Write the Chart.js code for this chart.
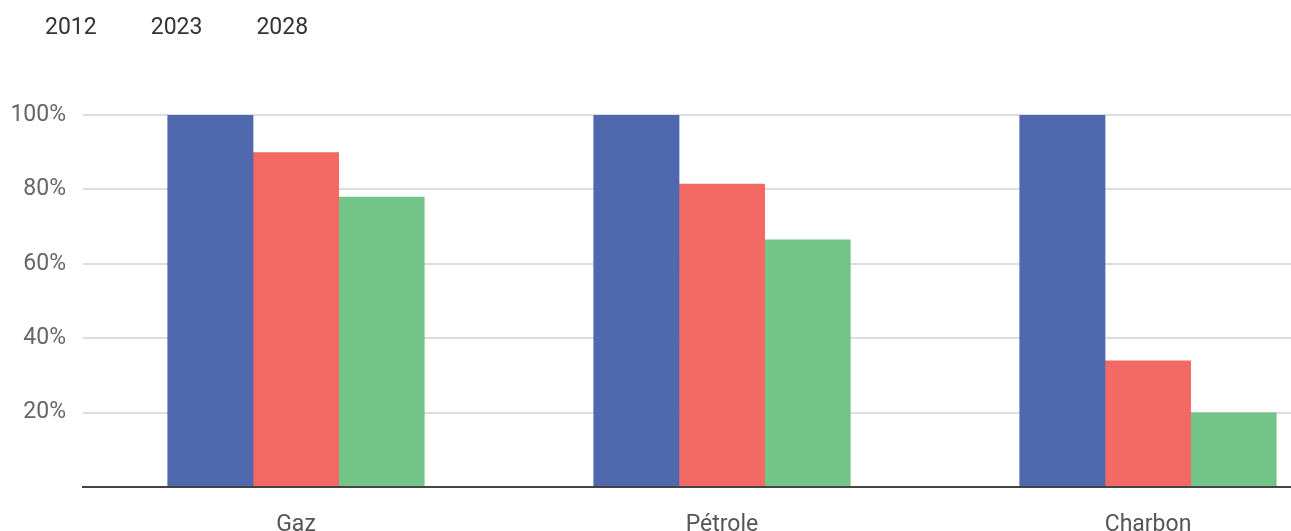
<!DOCTYPE html>
<html lang="fr">
<head>
<meta charset="utf-8">
<title>Gaz, Pétrole, Charbon</title>
<script src="https://cdn.jsdelivr.net/npm/chart.js@4"></script>
<style>
  html, body { margin: 0; padding: 0; background: #fff; overflow: hidden; }
  #wrap { position: absolute; left: -9px; top: 0; width: 1370px; height: 531px; }
</style>
</head>
<body>
<div id="wrap"><canvas id="graphique" width="1370" height="531"></canvas></div>
<script>
const categories = ['Gaz', 'Pétrole', 'Charbon'];
const annees = ['2012', '2023', '2028'];
const valeurs2012 = [100, 100, 100];
const valeurs2023 = [90, 81.5, 34];
const valeurs2028 = [78, 66.5, 20];
const couleurs = ['#5068ad', '#f26a63', '#73c489'];

// espace vide entre la légende et la zone du graphique
const espaceLegende = {
  id: 'espaceLegende',
  beforeInit(chart) {
    const fitOrig = chart.legend.fit;
    chart.legend.fit = function () {
      fitOrig.bind(chart.legend)();
      this.height += 65;
    };
  }
};

Chart.defaults.font.family = 'Roboto, sans-serif';
Chart.defaults.font.size = 23;

new Chart(document.getElementById('graphique'), {
  type: 'bar',
  data: {
    labels: categories,
    datasets: [
      { label: annees[0], data: valeurs2012, backgroundColor: couleurs[0] },
      { label: annees[1], data: valeurs2023, backgroundColor: couleurs[1] },
      { label: annees[2], data: valeurs2028, backgroundColor: couleurs[2] }
    ]
  },
  options: {
    responsive: false,
    animation: false,
    devicePixelRatio: 1,
    layout: { padding: 0 },
    datasets: {
      bar: { barPercentage: 1.004, categoryPercentage: 0.603 }
    },
    plugins: {
      tooltip: { enabled: false },
      legend: {
        position: 'top',
        align: 'start',
        labels: {
          color: '#333',
          boxWidth: 25.5,
          padding: 17,
          generateLabels: (chart) => chart.data.datasets.map((d, i) => ({
            text: d.label,
            fillStyle: 'transparent',
            strokeStyle: 'transparent',
            lineWidth: 0,
            fontColor: '#333',
            datasetIndex: i
          }))
        }
      }
    },
    scales: {
      x: {
        grid: { display: false, drawTicks: false },
        border: { display: true, color: '#444', width: 2 },
        ticks: { color: '#555', padding: 24 },
        afterFit: (scale) => { scale.height = 44; }
      },
      y: {
        min: 0,
        max: 100,
        grid: { color: '#dddddd', lineWidth: 2, drawTicks: false },
        border: { display: false },
        ticks: {
          stepSize: 20,
          color: '#666',
          padding: 17,
          callback: (v) => v === 0 ? '' : v + '%'
        },
        afterFit: (scale) => { scale.width = 92; }
      }
    }
  },
  plugins: [espaceLegende]
});
</script>
</body>
</html>
